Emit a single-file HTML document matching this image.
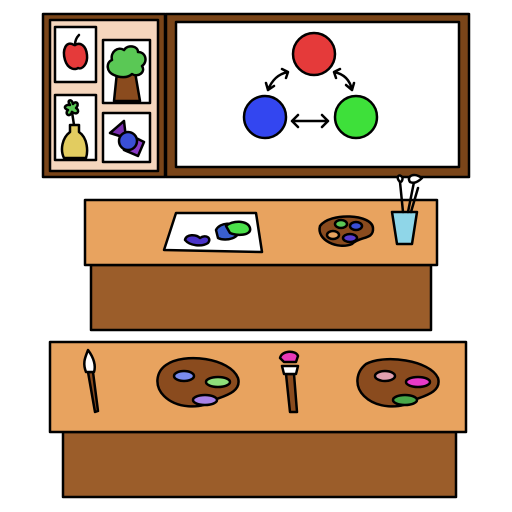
<!DOCTYPE html>
<html><head><meta charset="utf-8"><style>html,body{margin:0;padding:0;background:#fff}svg{display:block}</style></head>
<body>
<svg width="512" height="512" viewBox="0 0 512 512" xmlns="http://www.w3.org/2000/svg" stroke="#000" stroke-width="2.5" stroke-linejoin="round" stroke-linecap="round">
<rect width="512" height="512" fill="#fff" stroke="none"/>
<!-- left picture board -->
<g>
<rect x="43" y="14" width="122" height="163" fill="#7a4519"/>
<rect x="50" y="20" width="108" height="151" fill="#f5d6bd"/>
<rect x="55" y="27" width="41" height="55" fill="#fff"/>
<path d="M74 45 C66 40,62 50,65 60 C68 70,76 70,78 68 C82 70,88 64,87 55 C86 45,80 42,75 45Z" fill="#e53a3a"/>
<path d="M75 45 C75 40,77 37,79 35" fill="none"/>
<rect x="103" y="40" width="47" height="63" fill="#fff"/>
<path d="M117 72 L114 101 L140 101 L135 72Z" fill="#8a4b1e"/>
<path d="M114 75 C106 72,106 62,112 60 C110 52,118 46,124 50 C128 44,138 46,138 52 C146 52,148 62,142 66 C146 72,138 78,132 74 C128 78,120 78,114 75Z" fill="#5ac855"/>
<rect x="55" y="95" width="41" height="65" fill="#fff"/>
<path d="M70 105 C66 100,72 98,73 104 C76 100,80 104,76 108 C80 110,78 116,72 112 C70 118,64 114,68 110 C62 108,66 104,70 105Z" fill="#5ac855"/>
<path d="M72 112 L74 125" fill="none"/>
<path d="M70 125 L79 125 L79 132 C88 138,88 152,86 158 L64 158 C60 150,62 138,70 132Z" fill="#e2cc60"/>
<rect x="103" y="113" width="47" height="49" fill="#fff"/>
<polygon points="110,133 124,121 126,138" fill="#7a2fb0"/>
<polygon points="132,136 144,142 138,156 124,150" fill="#8a3bc8"/>
<circle cx="128" cy="141" r="9" fill="#3a4fd6"/>
</g>
<!-- whiteboard -->
<g>
<rect x="166" y="14" width="303" height="163" fill="#7a4519"/>
<rect x="176" y="22" width="283" height="145" fill="#fff"/>
<circle cx="314" cy="54" r="21" fill="#e53a3a"/>
<circle cx="265" cy="117" r="21" fill="#3346f0"/>
<circle cx="356" cy="117" r="21" fill="#3ee03a"/>
<path d="M288 72 C278 74,272 80,268 90 M282 69 L288 72 L286 78 M268 90 L266 83 M268 90 L274 86" fill="none"/>
<path d="M334 72 C344 74,350 80,352 90 M340 69 L334 72 L336 78 M352 90 L346 85 M352 90 L354 83" fill="none"/>
<path d="M292 121 L328 121 M298 115 L292 121 L298 127 M322 115 L328 121 L322 127" fill="none"/>
</g>
<!-- upper table -->
<g>
<rect x="91" y="265" width="340" height="65" fill="#9b5d2a"/>
<rect x="85" y="200" width="352" height="65" fill="#e8a35f"/>
<polygon points="176,213 256,213 262,252 164,250" fill="#fff"/>
<path d="M185 240 C186 234,196 234,200 238 C206 234,212 238,208 243 C202 247,190 246,185 240Z" fill="#4a33c8"/>
<path d="M216 230 C220 222,234 222,238 228 C242 238,226 242,218 238Z" fill="#3a5fd0"/>
<path d="M226 226 C232 220,248 220,250 228 C252 236,236 236,230 233Z" fill="#4be04a"/>
<path d="M320 226 C330 212,372 214,373 228 C374 240,360 236,352 244 C338 250,316 240,320 226Z" fill="#8a4b1e"/>
<ellipse cx="341" cy="224" rx="6" ry="4" fill="#5ac855"/>
<ellipse cx="333" cy="235" rx="6" ry="4" fill="#e8a35f"/>
<ellipse cx="350" cy="238" rx="7" ry="4" fill="#5a3bd0"/>
<ellipse cx="356" cy="226" rx="6" ry="4" fill="#3a4fd6"/>
<path d="M392 212 L417 212 L412 244 L397 244Z" fill="#8fd6e8"/>
<path d="M403 212 L400 182 M408 212 L414 182 M411 212 L418 188" fill="none"/>
<path d="M400 182 C396 178,398 174,401 176 C404 178,402 182,400 182Z" fill="#fff"/>
<path d="M410 182 C406 176,414 172,422 178 C418 182,414 184,410 182Z" fill="#fff"/>
</g>
<!-- lower table -->
<g>
<rect x="63" y="432" width="393" height="65" fill="#9b5d2a"/>
<rect x="50" y="342" width="416" height="90" fill="#e8a35f"/>
<path d="M88 372 L95 412 L98 411 L93 372Z" fill="#8a4b1e"/>
<path d="M86 372 C82 362,86 356,88 350 C94 358,96 366,94 372Z" fill="#fff"/>
<path d="M166 365 C184 352,230 358,238 378 C242 392,224 396,214 400 C200 410,176 408,164 396 C154 386,156 372,166 365Z" fill="#8a4b1e"/>
<ellipse cx="184" cy="376" rx="10" ry="5" fill="#7a8cf0"/>
<ellipse cx="218" cy="382" rx="12" ry="5" fill="#8fe07a"/>
<ellipse cx="205" cy="400" rx="12" ry="5" fill="#a883e8"/>
<path d="M286 374 L290 412 L297 412 L294 374Z" fill="#8a4b1e"/>
<path d="M282 366 L298 366 L296 374 L284 374Z" fill="#fff"/>
<path d="M280 358 C282 350,296 350,298 356 L296 362 L284 362Z" fill="#e83ab8"/>
<path d="M366 364 C384 354,430 360,438 378 C442 392,424 396,414 400 C400 410,376 408,364 396 C354 386,356 372,366 364Z" fill="#8a4b1e"/>
<ellipse cx="385" cy="376" rx="10" ry="5" fill="#e0a0b0"/>
<ellipse cx="418" cy="382" rx="12" ry="5" fill="#e83ac8"/>
<ellipse cx="405" cy="400" rx="12" ry="5" fill="#4aa84a"/>
</g>
</svg>
</body></html>
